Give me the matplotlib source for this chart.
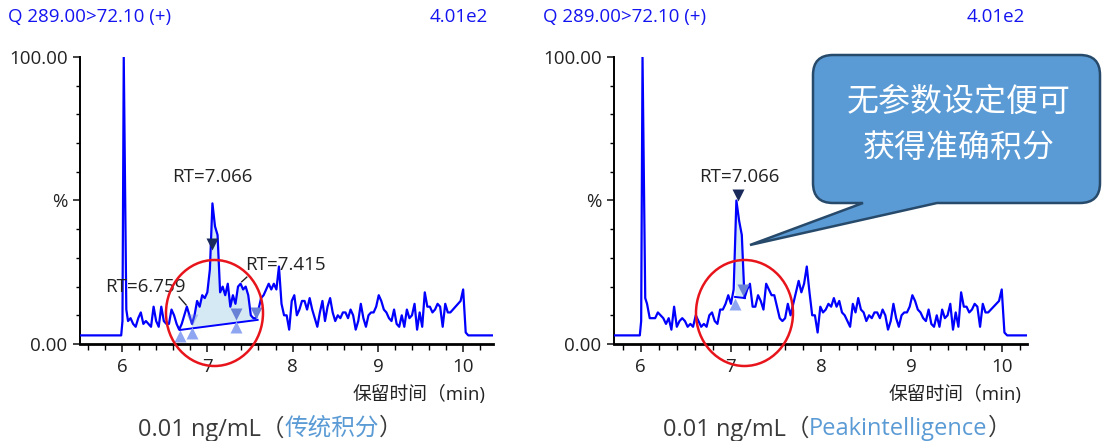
import numpy as np
import matplotlib.pyplot as plt
from matplotlib.patches import Ellipse, PathPatch
from matplotlib.path import Path
from matplotlib.ticker import MultipleLocator

plt.rcParams['font.family'] = ['Open Sans', 'Noto Sans CJK SC', 'DejaVu Sans']

W, H = 1103, 441

# ---- chromatogram data (% of 4.01e2) ----
scan_start, scan_step = 6.07, 0.03          # regular scans 6.07 ... 10.03 min
left_signal = [
    8, 9, 7, 6, 9, 11, 7, 8, 7, 6,
    13, 8, 6, 13, 8, 7, 7, 12, 10, 7,
    5, 7, 10, 13, 10, 7, 10, 15, 13, 17,
    16, 18, 26, 49, 41, 38, 18, 20, 17, 21,
    13, 17, 14, 20, 21, 19, 20, 17, 10, 9,
    9, 12, 16, 17, 19, 21, 19, 21, 19, 27,
    14, 10, 10, 5, 15, 17, 10, 12, 15, 15,
    12, 16, 12, 9, 6, 11, 15, 8, 13, 16,
    11, 8, 10, 9, 11, 11, 9, 12, 10, 5,
    8, 14, 9, 6, 10, 11, 11, 13, 17, 15,
    12, 11, 9, 8, 12, 7, 6, 10, 6, 12,
    9, 10, 14, 5, 11, 6, 18, 13, 13, 11,
    12, 14, 13, 6, 14, 11, 11, 12, 13, 14,
    15, 19, 4,
]
right_signal = [
    14, 9, 9, 9, 11, 10, 9, 7, 9, 5,
    13, 6, 8, 9, 8, 6, 7, 6, 10, 8,
    6, 7, 6, 10, 11, 8, 7, 12, 12, 14,
    17, 14, 19, 50, 43, 38, 16, 19, 21, 13,
    13, 17, 15, 12, 21, 19, 17, 17, 13, 9,
    8, 9, 14, 10, 14, 18, 22, 18, 21, 27,
    18, 10, 10, 4, 13, 11, 12, 14, 13, 16,
    13, 15, 11, 10, 8, 6, 14, 11, 16, 12,
    11, 8, 10, 9, 11, 11, 9, 12, 10, 5,
    8, 14, 9, 6, 10, 11, 11, 13, 17, 15,
    12, 11, 9, 8, 12, 7, 6, 10, 6, 12,
    9, 10, 14, 5, 11, 6, 18, 13, 13, 11,
    12, 14, 13, 6, 14, 11, 11, 12, 13, 14,
    15, 19, 4,
]
# solvent spike before the regular scans, flat tail after
spike_time = [5.50, 5.99, 6.005, 6.02, 6.05]
spike_left = [3, 3, 8, 100, 12]
spike_right = [3, 3, 8, 100, 16]
tail_time = [10.06, 10.40]
tail_level = [3, 3]

# integration results
left_base_t, left_base_y = [6.68, 7.59], [4.9, 8.4]
left_area_t = [6.82, 7.59]
right_base_t, right_base_y = [7.045, 7.155], [16.4, 16.0]

left_start_t, left_start_y = [6.68, 6.82, 7.34], [2.8, 3.8, 5.9]
left_end_t, left_end_y = [7.34, 7.57], [10.4, 10.8]
left_apex_t, left_apex_y = 7.056, 35
right_start_t, right_start_y = [7.045], [14]
right_end_t, right_end_y = [7.13], [18.8]
right_apex_t, right_apex_y = 7.078, 52


def trace(signal, spike):
    t_scan = scan_start + scan_step * np.arange(len(signal))
    t = np.concatenate([spike_time, t_scan, tail_time])
    y = np.concatenate([spike, signal, tail_level]).astype(float)
    return t, y


def fpx(x, y):
    return x / W, 1 - y / H


def fill_area(ax, t, y, t0, t1, base_t, base_y):
    inner = (t > t0) & (t < t1)
    xs = np.concatenate([[t0], t[inner], [t1]])
    ys = np.concatenate([[np.interp(t0, t, y)], y[inner], [np.interp(t1, t, y)]])
    base = np.interp(xs, base_t, base_y)
    ax.fill_between(xs, base, ys, color='#d5e9f5', lw=0, zorder=1)


def style_axes(ax, xlim):
    ax.set_xlim(*xlim)
    ax.set_ylim(0, 100)
    for s in ['top', 'right']:
        ax.spines[s].set_visible(False)
    ax.spines['left'].set_linewidth(1.4)
    ax.spines['bottom'].set_linewidth(2.0)
    ax.set_xticks([6, 7, 8, 9, 10])
    ax.xaxis.set_minor_locator(MultipleLocator(0.2))
    ax.set_yticks([0, 50, 100])
    ax.set_yticklabels(['0.00', '%', '100.00'])
    ax.yaxis.set_minor_locator(MultipleLocator(10))
    ax.tick_params(axis='x', which='major', length=6, width=1.2, labelsize=13.5, pad=4, colors='#222222')
    ax.tick_params(axis='x', which='minor', length=4, width=1.0)
    ax.tick_params(axis='y', which='major', length=5, width=1.2, labelsize=13.5, pad=4, colors='#222222')
    ax.tick_params(axis='y', which='minor', length=3, width=1.0)


def colored_line(fig, xc, y, parts, size):
    texts = [fig.text(0, y, s, color=c, fontsize=size, va='center', ha='left') for s, c in parts]
    r = fig.canvas.get_renderer()
    widths = [t.get_window_extent(r).width for t in texts]
    x = xc - sum(widths) / 2
    for t, w in zip(texts, widths):
        t.set_x(x / W)
        x += w


fig = plt.figure(figsize=(W / 100, H / 100), dpi=100)
ax1 = fig.add_axes([80 / W, 97 / H, 413 / W, 287 / H])
ax2 = fig.add_axes([614 / W, 97 / H, 413 / W, 287 / H])

blue = '#0000ff'
up_c, down_c, apex_c = '#8ea6f2', '#6a82d6', '#1a2a5a'
label_c = '#222222'

# left panel: conventional integration
t, y = trace(left_signal, spike_left)
fill_area(ax1, t, y, left_area_t[0], left_area_t[1], left_base_t, left_base_y)
ax1.plot(t, y, color=blue, lw=1.6, zorder=3)
ax1.plot(left_base_t, left_base_y, color=blue, lw=1.4, zorder=3)
ax1.plot(left_start_t, left_start_y, '^', color=up_c, ms=8, mec='none', zorder=4)
ax1.plot(left_end_t, left_end_y, 'v', color=down_c, ms=8, mec='none', zorder=4)
ax1.plot([6.82], [8.4], 'v', color=down_c, ms=8, mec='none', alpha=0.4, zorder=4)
ax1.plot([left_apex_t], [left_apex_y], 'v', color=apex_c, ms=8, mec='none', zorder=4)
ax1.text(7.056, 58.2, 'RT=7.066', ha='center', va='center', fontsize=13.5, color=label_c)
ax1.text(6.27, 19.9, 'RT=6.759', ha='center', va='center', fontsize=13.5, color=label_c)
ax1.text(7.912, 27.5, 'RT=7.415', ha='center', va='center', fontsize=13.5, color=label_c)
ax1.plot([6.669, 6.751], [16.4, 13.6], color=label_c, lw=1.0)
ax1.plot([7.404, 7.463], [21.7, 23.3], color=label_c, lw=1.0)
style_axes(ax1, (5.507, 10.35))

# right panel: Peakintelligence
t, y = trace(right_signal, spike_right)
fill_area(ax2, t, y, right_base_t[0], right_base_t[1], right_base_t, right_base_y)
ax2.plot(t, y, color=blue, lw=1.6, zorder=3)
ax2.plot(right_base_t, right_base_y, color=blue, lw=1.4, zorder=3)
ax2.plot(right_start_t, right_start_y, '^', color=up_c, ms=8, mec='none', zorder=4)
ax2.plot(right_end_t, right_end_y, 'v', color=down_c, ms=8, mec='none', zorder=4)
ax2.plot([right_apex_t], [right_apex_y], 'v', color=apex_c, ms=8, mec='none', zorder=4)
ax2.text(7.089, 58.2, 'RT=7.066', ha='center', va='center', fontsize=13.5, color=label_c)
style_axes(ax2, (5.704, 10.28))

# channel headers
for x_left, x_right in [(8, 488), (543, 1025)]:
    fig.text(*fpx(x_left, 17), 'Q 289.00>72.10 (+)', color='#1414f0', fontsize=13.5, va='center', ha='left')
    fig.text(*fpx(x_right, 17), '4.01e2', color='#1414f0', fontsize=13.5, va='center', ha='right')

# axis titles
fig.text(*fpx(486, 394), '保留时间（min)', fontsize=13.5, color=label_c, ha='right', va='center')
fig.text(*fpx(1022, 394), '保留时间（min)', fontsize=13.5, color=label_c, ha='right', va='center')

# captions
gray, light = '#3a3a3a', '#5b9bd5'
colored_line(fig, 270, 1 - 429 / H, [('0.01 ng/mL（', gray), ('传统积分', light), ('）', gray)], 17)
colored_line(fig, 837, 1 - 429 / H, [('0.01 ng/mL（', gray), ('Peakintelligence', light), ('）', gray)], 17)

# red highlight rings
for cx in [214.5, 744.5]:
    fig.add_artist(Ellipse(fpx(cx, 313), 97 / W, 106 / H, transform=fig.transFigure,
                           fill=False, edgecolor='#e8141b', lw=1.8, zorder=10))

# callout bubble
x0, x1, y0, y1, r = 813, 1100, 55, 203, 20
pts = [(x0 + r, y0), (x1 - r, y0), (x1, y0), (x1, y0 + r), (x1, y1 - r), (x1, y1), (x1 - r, y1),
       (937, y1), (750, 245), (863, y1), (x0 + r, y1), (x0, y1), (x0, y1 - r), (x0, y0 + r),
       (x0, y0), (x0 + r, y0), (x0 + r, y0)]
codes = [Path.MOVETO, Path.LINETO, Path.CURVE3, Path.CURVE3, Path.LINETO, Path.CURVE3, Path.CURVE3,
         Path.LINETO, Path.LINETO, Path.LINETO, Path.LINETO, Path.CURVE3, Path.CURVE3, Path.LINETO,
         Path.CURVE3, Path.CURVE3, Path.CLOSEPOLY]
bubble = Path([fpx(*p) for p in pts], codes)
fig.add_artist(PathPatch(bubble, transform=fig.transFigure, facecolor='#5b9bd5',
                         edgecolor='#274a6b', lw=1.8, zorder=11))
fig.text(*fpx(959, 102), '无参数设定便可', color='white', fontsize=23, ha='center', va='center', zorder=12)
fig.text(*fpx(959, 148), '获得准确积分', color='white', fontsize=23, ha='center', va='center', zorder=12)

fig.savefig('out.png', dpi=100)
